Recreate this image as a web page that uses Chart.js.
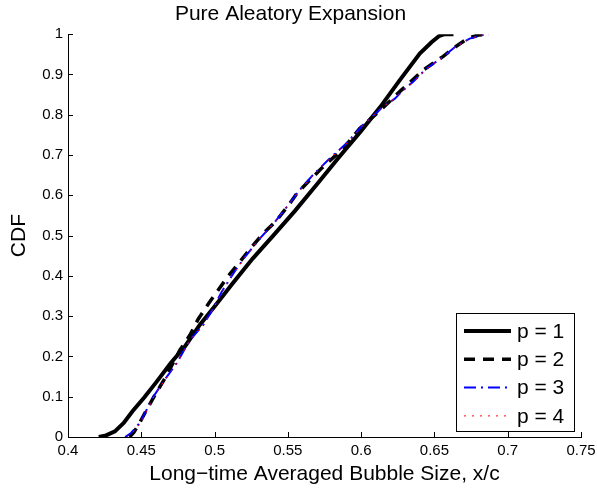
<!DOCTYPE html>
<html>
<head>
<meta charset="utf-8">
<script src="https://cdn.jsdelivr.net/npm/chart.js@4.4.1/dist/chart.umd.min.js"></script>
<style>
  html, body { margin: 0; padding: 0; background: #fff; }
  #wrap { width: 597px; height: 489px; }
</style>
</head>
<body>
<div id="wrap"><canvas id="cdf_chart"></canvas></div>
<script>
// ticks
const xTicks = [0.4, 0.45, 0.5, 0.55, 0.6, 0.65, 0.7, 0.75];
const yTicks = [0, 0.1, 0.2, 0.3, 0.4, 0.5, 0.6, 0.7, 0.8, 0.9, 1];

// series
const seriesNames = ['p = 1', 'p = 2', 'p = 3', 'p = 4'];

const p1X = [0.421, 0.426, 0.432, 0.438, 0.444, 0.452, 0.460, 0.470, 0.480, 0.490, 0.500, 0.512, 0.526, 0.540, 0.555, 0.570, 0.585, 0.600, 0.613, 0.626, 0.640, 0.648, 0.653, 0.657, 0.663];
const p1Y = [0, 0.004, 0.014, 0.035, 0.064, 0.098, 0.135, 0.183, 0.226, 0.279, 0.324, 0.380, 0.443, 0.500, 0.562, 0.628, 0.695, 0.760, 0.819, 0.884, 0.952, 0.980, 0.995, 1, 1];

const p2X = [0.442, 0.445, 0.449, 0.454, 0.4593, 0.466, 0.4764, 0.4832, 0.4889, 0.4957, 0.5025, 0.5094, 0.5173, 0.5253, 0.5332, 0.5424, 0.5514, 0.556, 0.565, 0.573, 0.588, 0.599, 0.6128, 0.6265, 0.6424, 0.656, 0.664, 0.673, 0.680, 0.686];
const p2Y = [0, 0.012, 0.036, 0.070, 0.104, 0.145, 0.216, 0.253, 0.293, 0.330, 0.365, 0.400, 0.435, 0.472, 0.505, 0.538, 0.580, 0.604, 0.638, 0.667, 0.717, 0.766, 0.810, 0.858, 0.911, 0.945, 0.968, 0.990, 0.998, 1];

const p3X = [0.439, 0.443, 0.449, 0.4582, 0.465, 0.4741, 0.4832, 0.4923, 0.498, 0.5048, 0.5128, 0.5207, 0.531, 0.5412, 0.5503, 0.558, 0.567, 0.5787, 0.590, 0.601, 0.615, 0.623, 0.6287, 0.6355, 0.6447, 0.656, 0.664, 0.674, 0.683, 0.687];
const p3Y = [0, 0.010, 0.035, 0.100, 0.137, 0.183, 0.241, 0.278, 0.313, 0.360, 0.406, 0.447, 0.493, 0.534, 0.576, 0.613, 0.650, 0.692, 0.729, 0.774, 0.820, 0.840, 0.861, 0.882, 0.915, 0.944, 0.968, 0.989, 0.998, 1];

const p4X = [0.440, 0.444, 0.450, 0.4585, 0.4655, 0.4745, 0.4830, 0.4920, 0.4985, 0.5050, 0.5125, 0.5210, 0.5305, 0.5410, 0.5500, 0.5585, 0.5670, 0.5790, 0.5905, 0.6010, 0.6145, 0.6230, 0.6290, 0.6355, 0.6450, 0.6560, 0.6645, 0.6740, 0.6830, 0.6870];
const p4Y = [0, 0.010, 0.036, 0.100, 0.138, 0.184, 0.240, 0.277, 0.314, 0.359, 0.404, 0.448, 0.492, 0.533, 0.575, 0.614, 0.649, 0.692, 0.730, 0.773, 0.819, 0.840, 0.862, 0.881, 0.915, 0.944, 0.968, 0.989, 0.998, 1];

const FONT = "'Liberation Sans', Arial, Helvetica, sans-serif";

function toPoints(xs, ys) {
    return xs.map((x, i) => ({ x: x, y: ys[i] }));
}

// MATLAB style ticks pointing into the axes
const innerTicks = {
    id: 'innerTicks',
    afterDatasetsDraw(chart) {
        const c = chart.ctx;
        const xs = chart.scales.x, ys = chart.scales.y;
        const len = 5;
        c.save();
        c.strokeStyle = '#000';
        c.lineWidth = 1;
        c.beginPath();
        xTicks.forEach(v => {
            const px = Math.round(xs.getPixelForValue(v)) + 0.5;
            c.moveTo(px, ys.bottom);
            c.lineTo(px, ys.bottom - len);
        });
        yTicks.forEach(v => {
            const py = Math.round(ys.getPixelForValue(v)) + 0.5;
            c.moveTo(xs.left, py);
            c.lineTo(xs.left + len, py);
        });
        c.stroke();
        c.restore();
    }
};

// boxed legend in the lower right corner, like the MATLAB one
const boxLegend = {
    id: 'boxLegend',
    afterDraw(chart) {
        const c = chart.ctx;
        const area = chart.chartArea;
        const w = 118, h = 118;
        const left = area.right - 7 - w;
        const top = area.bottom - 6 - h;
        c.save();
        c.fillStyle = '#fff';
        c.fillRect(left, top, w, h);
        c.strokeStyle = '#000';
        c.lineWidth = 1;
        c.strokeRect(Math.round(left) + 0.5, Math.round(top) + 0.5, w, h);
        c.font = '21px ' + FONT;
        c.textBaseline = 'middle';
        c.textAlign = 'left';
        chart.data.datasets.forEach((ds, i) => {
            const y = top + 18 + i * 28.3;
            c.save();
            c.strokeStyle = ds.borderColor;
            c.lineWidth = ds.borderWidth;
            c.setLineDash(ds.borderDash || []);
            c.beginPath();
            c.moveTo(left + 8, y);
            c.lineTo(left + 55, y);
            c.stroke();
            c.restore();
            c.fillStyle = '#000';
            c.fillText(ds.label, left + 61, y + 1);
        });
        c.restore();
    }
};

const ctx = document.getElementById('cdf_chart').getContext('2d');

const cdf_chart = new Chart(ctx, {
    type: 'line',
    data: {
        datasets: [
            {
                label: seriesNames[0],
                data: toPoints(p1X, p1Y),
                borderColor: '#000000',
                borderWidth: 4,
                order: 4,
            },
            {
                label: seriesNames[1],
                data: toPoints(p2X, p2Y),
                borderColor: '#000000',
                borderWidth: 3.5,
                borderDash: [11, 8],
                order: 3,
            },
            {
                label: seriesNames[2],
                data: toPoints(p3X, p3Y),
                borderColor: '#0000ff',
                borderWidth: 2,
                borderDash: [12, 5, 2, 5],
                order: 2,
            },
            {
                label: seriesNames[3],
                data: toPoints(p4X, p4Y),
                borderColor: '#ff0000',
                borderWidth: 1,
                borderDash: [2, 6],
                order: 1,
            },
        ]
    },
    options: {
        responsive: true,
        maintainAspectRatio: false,
        animation: false,
        layout: { padding: { left: 0, right: 16, top: 0, bottom: 0 } },
        elements: {
            point: { radius: 0 },
            line: { tension: 0, fill: false, borderCapStyle: 'butt' }
        },
        plugins: {
            legend: { display: false },
            tooltip: { enabled: false },
            title: {
                display: true,
                text: 'Pure Aleatory Expansion',
                color: '#000',
                font: { family: FONT, size: 21, weight: 'normal' },
                padding: { top: 2, bottom: 7 },
            }
        },
        scales: {
            x: {
                type: 'linear',
                min: 0.4,
                max: 0.75,
                afterBuildTicks: (scale) => { scale.ticks = xTicks.map(v => ({ value: v })); },
                afterFit: (scale) => {
                    scale.height = 52;
                    scale.paddingLeft = 0;
                    scale.paddingRight = 0;
                },
                ticks: {
                    color: '#000',
                    font: { family: FONT, size: 15 },
                    padding: 5,
                    maxRotation: 0,
                    autoSkip: false,
                    callback: (v) => String(v),
                },
                grid: { display: true, drawOnChartArea: false, drawTicks: false },
                border: { display: true, color: '#000', width: 1 },
                title: {
                    display: true,
                    text: 'Long\u2212time Averaged Bubble Size, x/c',
                    color: '#000',
                    font: { family: FONT, size: 21 },
                    padding: { top: 0, bottom: 2 },
                }
            },
            y: {
                type: 'linear',
                min: 0,
                max: 1,
                afterBuildTicks: (scale) => { scale.ticks = yTicks.map(v => ({ value: v })); },
                afterFit: (scale) => { scale.width = 68; },
                ticks: {
                    color: '#000',
                    font: { family: FONT, size: 15 },
                    padding: 5,
                    autoSkip: false,
                    callback: (v) => String(v),
                },
                grid: { display: true, drawOnChartArea: false, drawTicks: false },
                border: { display: true, color: '#000', width: 1 },
                title: {
                    display: true,
                    text: 'CDF',
                    color: '#000',
                    font: { family: FONT, size: 21 },
                    padding: { top: 7, bottom: 0 },
                }
            }
        }
    },
    plugins: [innerTicks, boxLegend]
});
</script>
</body>
</html>
